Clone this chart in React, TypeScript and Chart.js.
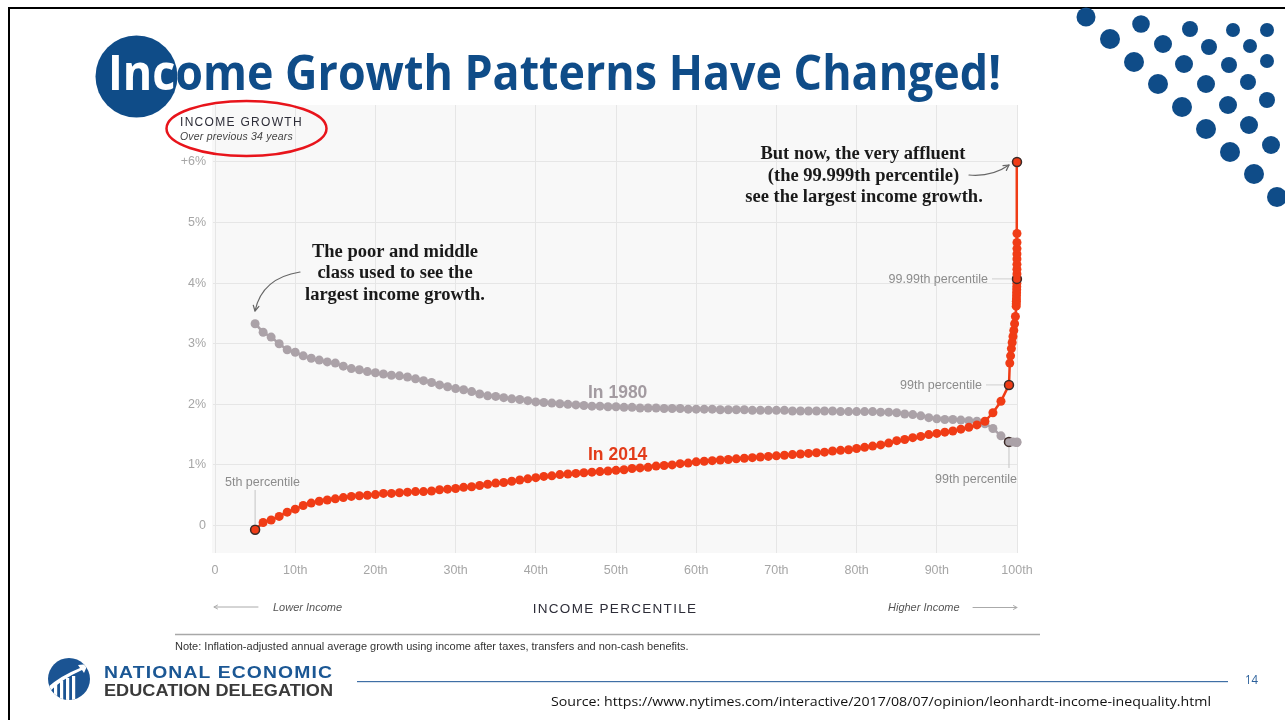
import React, { useEffect, useLayoutEffect, useRef } from 'react';
import { Chart, registerables } from 'chart.js';

Chart.register(...registerables);

// ---------------- data ----------------
const percentiles = [
  5, 6, 7, 8, 9, 10, 11, 12, 13, 14,
  15, 16, 17, 18, 19, 20, 21, 22, 23, 24,
  25, 26, 27, 28, 29, 30, 31, 32, 33, 34,
  35, 36, 37, 38, 39, 40, 41, 42, 43, 44,
  45, 46, 47, 48, 49, 50, 51, 52, 53, 54,
  55, 56, 57, 58, 59, 60, 61, 62, 63, 64,
  65, 66, 67, 68, 69, 70, 71, 72, 73, 74,
  75, 76, 77, 78, 79, 80, 81, 82, 83, 84,
  85, 86, 87, 88, 89, 90, 91, 92, 93, 94,
  95, 96, 97, 98, 99,
];

const growth1980 = [
  3.33, 3.19, 3.11, 3.0, 2.9, 2.86, 2.8, 2.76, 2.73, 2.7,
  2.68, 2.63, 2.59, 2.57, 2.54, 2.52, 2.5, 2.48, 2.47, 2.45,
  2.42, 2.39, 2.36, 2.32, 2.29, 2.26, 2.24, 2.21, 2.17, 2.14,
  2.13, 2.11, 2.09, 2.08, 2.06, 2.04, 2.03, 2.02, 2.01, 2.0,
  1.99, 1.98, 1.97, 1.97, 1.96, 1.96, 1.95, 1.95, 1.94, 1.94,
  1.94, 1.93, 1.93, 1.93, 1.92, 1.92, 1.92, 1.92, 1.91, 1.91,
  1.91, 1.91, 1.9, 1.9, 1.9, 1.9, 1.9, 1.89, 1.89, 1.89,
  1.89, 1.89, 1.89, 1.88, 1.88, 1.88, 1.88, 1.88, 1.87, 1.87,
  1.86, 1.84, 1.83, 1.81, 1.78, 1.76, 1.75, 1.75, 1.74, 1.73,
  1.72, 1.68, 1.6, 1.48, 1.38,
];

const growth2014 = [
  -0.07, 0.05, 0.09, 0.15, 0.22, 0.27, 0.33, 0.37, 0.4, 0.42,
  0.44, 0.46, 0.48, 0.49, 0.5, 0.51, 0.53, 0.53, 0.54, 0.55,
  0.56, 0.56, 0.57, 0.59, 0.6, 0.61, 0.63, 0.64, 0.66, 0.68,
  0.7, 0.71, 0.73, 0.75, 0.77, 0.79, 0.81, 0.82, 0.84, 0.85,
  0.86, 0.87, 0.88, 0.89, 0.9, 0.91, 0.92, 0.94, 0.95, 0.96,
  0.98, 0.99, 1.0, 1.02, 1.03, 1.05, 1.06, 1.07, 1.08, 1.09,
  1.1, 1.11, 1.12, 1.13, 1.14, 1.15, 1.16, 1.17, 1.18, 1.19,
  1.2, 1.21, 1.23, 1.24, 1.25, 1.27, 1.29, 1.31, 1.33, 1.36,
  1.4, 1.42, 1.45, 1.47, 1.5, 1.52, 1.54, 1.56, 1.59, 1.62,
  1.66, 1.72, 1.86, 2.05, 2.32,
];

const topPercentiles2014 = [
  99.1, 99.2, 99.3, 99.4, 99.5, 99.6, 99.7, 99.8, 99.9,
  99.91, 99.92, 99.93, 99.94, 99.95, 99.96, 99.97, 99.98, 99.99,
  99.991, 99.992, 99.993, 99.994, 99.995, 99.996, 99.997, 99.998, 99.999,
];
const topGrowth2014 = [
  2.68, 2.8, 2.92, 3.02, 3.12, 3.22, 3.33, 3.45, 3.62,
  3.66, 3.7, 3.74, 3.79, 3.84, 3.89, 3.94, 4.0, 4.07,
  4.15, 4.23, 4.31, 4.4, 4.48, 4.57, 4.67, 4.82, 6.0,
];

const topPercentiles1980 = [99.5, 99.9, 99.99, 99.999];
const topGrowth1980 = [1.38, 1.37, 1.37, 1.38];

const highlighted2014 = [5, 99, 99.99, 99.999];
const highlighted1980 = [99];

const xTickLabels = ['0', '10th', '20th', '30th', '40th', '50th', '60th', '70th', '80th', '90th', '100th'];
const yTickLabels = ['0', '1%', '2%', '3%', '4%', '5%', '+6%'];

// ---------------- styles ----------------
const RED = '#f03c16';
const GRAY = '#aba2a8';
const HILITE = '#3b2a27';
const BLUE = '#0f4c88';
const LABEL_FONT = '12.5px "Liberation Sans", Arial, sans-serif';
const LABEL_COLOR = '#8c8c8c';
const SERIF = 'bold 18.5px "Liberation Serif", "Times New Roman", serif';

const DECOR_DOTS: [number, number, number][] = [
  [1086, 17, 9.5], [1141, 24, 8.8], [1190, 29, 8], [1233, 30, 7], [1267, 30, 7],
  [1110, 39, 10], [1163, 44, 9], [1209, 47, 8], [1250, 46, 7],
  [1134, 62, 10], [1184, 64, 9], [1229, 65, 8], [1267, 61, 7],
  [1158, 84, 10], [1206, 84, 9], [1248, 82, 8],
  [1182, 107, 10], [1228, 105, 9], [1267, 100, 8],
  [1206, 129, 10], [1249, 125, 9],
  [1230, 152, 10], [1271, 145, 9],
  [1254, 174, 10],
  [1277, 197, 10],
];

function drawText(
  ctx: CanvasRenderingContext2D, s: string, x: number, y: number, font: string, color: string,
  align: CanvasTextAlign = 'left', spacing = 0, maxW?: number,
) {
  ctx.save();
  ctx.font = font;
  ctx.fillStyle = color;
  ctx.textAlign = align;
  ctx.textBaseline = 'alphabetic';
  (ctx as any).letterSpacing = spacing + 'px';
  if (maxW) ctx.fillText(s, x, y, maxW);
  else ctx.fillText(s, x, y);
  ctx.restore();
}

function drawLine(ctx: CanvasRenderingContext2D, x1: number, y1: number, x2: number, y2: number, color: string, w = 1) {
  ctx.save();
  ctx.strokeStyle = color;
  ctx.lineWidth = w;
  ctx.beginPath();
  ctx.moveTo(x1, y1);
  ctx.lineTo(x2, y2);
  ctx.stroke();
  ctx.restore();
}

function drawArrow(
  ctx: CanvasRenderingContext2D, sx: number, sy: number, cx: number, cy: number, ex: number, ey: number,
  color: string, width: number, head: number,
) {
  ctx.save();
  ctx.strokeStyle = color;
  ctx.lineWidth = width;
  ctx.lineCap = 'round';
  ctx.lineJoin = 'round';
  ctx.beginPath();
  ctx.moveTo(sx, sy);
  ctx.quadraticCurveTo(cx, cy, ex, ey);
  ctx.stroke();
  const ang = Math.atan2(ey - cy, ex - cx);
  ctx.beginPath();
  ctx.moveTo(ex - head * Math.cos(ang - 0.5), ey - head * Math.sin(ang - 0.5));
  ctx.lineTo(ex, ey);
  ctx.lineTo(ex - head * Math.cos(ang + 0.5), ey - head * Math.sin(ang + 0.5));
  ctx.stroke();
  ctx.restore();
}

const annotatePlugin = {
  id: 'annotate',
  beforeDraw(chart: any) {
    const { ctx, chartArea: a } = chart;
    ctx.save();
    ctx.fillStyle = '#f8f8f8';
    ctx.fillRect(a.left - 1, a.top, a.right - a.left + 1, a.bottom - a.top);
    ctx.restore();
  },
  afterDraw(chart: any) {
    const ctx: CanvasRenderingContext2D = chart.ctx;
    const xs = chart.scales.x;
    const ys = chart.scales.y;
    const px = (v: number) => xs.getPixelForValue(v);
    const py = (v: number) => ys.getPixelForValue(v);

    // header of the graphic
    drawText(ctx, 'INCOME GROWTH', 180, 126, '12px "Liberation Sans", Arial, sans-serif', '#2d2d38', 'left', 1.3);
    drawText(ctx, 'Over previous 34 years', 180, 139.5, 'italic 10.5px "Liberation Sans", Arial, sans-serif', '#444', 'left', 0.2);
    ctx.save();
    ctx.strokeStyle = '#e8141b';
    ctx.lineWidth = 2.5;
    ctx.beginPath();
    ctx.ellipse(246.5, 128.5, 80, 27.5, 0, 0, Math.PI * 2);
    ctx.stroke();
    ctx.restore();

    // series labels
    drawText(ctx, 'In 1980', 588, 397.5, 'bold 17.5px "Liberation Sans", Arial, sans-serif', '#a39ba1');
    drawText(ctx, 'In 2014', 588, 459.5, 'bold 17.5px "Liberation Sans", Arial, sans-serif', '#e33c1a');

    // callouts
    const i5 = percentiles.indexOf(5);
    const i99 = percentiles.indexOf(99);
    const i9999 = topPercentiles2014.indexOf(99.99);
    const x5 = px(5), y5 = py(growth2014[i5]);
    drawLine(ctx, x5, 490, x5, y5 - 5, '#c4c4c4', 1);
    drawText(ctx, '5th percentile', 225, 486, LABEL_FONT, LABEL_COLOR);

    const x99 = px(99);
    const yr99 = py(growth2014[i99]);
    drawLine(ctx, 986, yr99, x99 - 5, yr99, '#cfcfcf', 1);
    drawText(ctx, '99th percentile', 982, yr99 + 4.5, LABEL_FONT, LABEL_COLOR, 'right');

    const x9999 = px(99.99), y9999 = py(topGrowth2014[i9999]);
    drawLine(ctx, 992, y9999, x9999 - 5, y9999, '#cfcfcf', 1);
    drawText(ctx, '99.99th percentile', 988, y9999 + 4.5, LABEL_FONT, LABEL_COLOR, 'right');

    const yg99 = py(growth1980[i99]);
    drawLine(ctx, x99, yg99 + 5, x99, 468, '#c4c4c4', 1);
    drawText(ctx, '99th percentile', 1017, 482.5, LABEL_FONT, LABEL_COLOR, 'right');

    // big serif annotations
    drawText(ctx, 'The poor and middle', 395, 257, SERIF, '#1a1a1a', 'center', 0, 168);
    drawText(ctx, 'class used to see the', 395, 278, SERIF, '#1a1a1a', 'center', 0, 161);
    drawText(ctx, 'largest income growth.', 395, 299.5, SERIF, '#1a1a1a', 'center', 0, 185);
    drawArrow(ctx, 300, 272, 262, 278, 255, 311, '#666', 1.2, 6);

    drawText(ctx, 'But now, the very affluent', 863, 158.5, SERIF, '#1a1a1a', 'center', 0, 212);
    drawText(ctx, '(the 99.999th percentile)', 863.5, 180.5, SERIF, '#1a1a1a', 'center', 0, 199);
    drawText(ctx, 'see the largest income growth.', 864, 202, SERIF, '#1a1a1a', 'center', 0, 248);
    drawArrow(ctx, 969, 175, 992, 177, 1009, 165, '#666', 1.2, 6);

    // axis footer
    drawArrow(ctx, 258, 607, 236, 607, 214, 607, '#aaa', 1, 4);
    drawText(ctx, 'Lower Income', 273, 610.5, 'italic 11px "Liberation Sans", Arial, sans-serif', '#555');
    drawText(ctx, 'INCOME PERCENTILE', 615, 613, '13.5px "Liberation Sans", Arial, sans-serif', '#2d2d38', 'center', 1.3);
    drawText(ctx, 'Higher Income', 888, 610.5, 'italic 11px "Liberation Sans", Arial, sans-serif', '#555');
    drawArrow(ctx, 973, 607.5, 995, 607.5, 1017, 607.5, '#aaa', 1, 4);

    drawLine(ctx, 175, 634.5, 1040, 634.5, '#a8a8a8', 1.3);
    drawText(
      ctx,
      'Note: Inflation-adjusted annual average growth using income after taxes, transfers and non-cash benefits.',
      175, 650, '11px "Liberation Sans", Arial, sans-serif', '#333', 'left', 0, 533,
    );
  },
};

function IncomeChart() {
  const ref = useRef<HTMLCanvasElement>(null);
  useEffect(() => {
    const canvas = ref.current;
    if (!canvas) return;
    const x2014 = [...percentiles, ...topPercentiles2014];
    const v2014 = [...growth2014, ...topGrowth2014];
    const x1980 = [...percentiles, ...topPercentiles1980];
    const v1980 = [...growth1980, ...topGrowth1980];
    const pts2014 = x2014.map((p, i) => ({ x: p, y: v2014[i] }));
    const pts1980 = x1980.map((p, i) => ({ x: p, y: v1980[i] }));

    const isHl = (list: number[]) => (c: any) => list.includes(c.raw?.x);

    const chart = new Chart(canvas, {
      type: 'line',
      data: {
        datasets: [
          {
            label: 'In 2014',
            data: pts2014,
            borderColor: RED,
            backgroundColor: RED,
            borderWidth: 2.5,
            tension: 0,
            pointRadius: 4.5,
            pointBackgroundColor: RED,
            pointBorderColor: (c: any) => (isHl(highlighted2014)(c) ? HILITE : RED),
            pointBorderWidth: (c: any) => (isHl(highlighted2014)(c) ? 1.5 : 0),
            clip: false,
          } as any,
          {
            label: 'In 1980',
            data: pts1980,
            borderColor: GRAY,
            backgroundColor: GRAY,
            borderWidth: 2.5,
            tension: 0,
            pointRadius: 4.5,
            pointBackgroundColor: GRAY,
            pointBorderColor: (c: any) => (isHl(highlighted1980)(c) ? HILITE : GRAY),
            pointBorderWidth: (c: any) => (isHl(highlighted1980)(c) ? 1.5 : 0),
            clip: false,
          } as any,
        ],
      },
      options: {
        responsive: false,
        animation: false,
        devicePixelRatio: 1,
        layout: { padding: { top: 105, right: 268, left: 0, bottom: 0 } },
        plugins: {
          legend: { display: false },
          tooltip: { enabled: false },
          title: { display: false },
        },
        scales: {
          x: {
            type: 'linear',
            min: -0.25,
            max: 100,
            afterFit: (s: any) => { s.height = 167; },
            border: { display: false },
            grid: { color: '#e6e6e6', drawTicks: false, lineWidth: 1 },
            ticks: {
              stepSize: 10,
              includeBounds: false,
              autoSkip: false,
              maxRotation: 0,
              padding: 10,
              color: '#a6a6a6',
              font: { family: '"Liberation Sans", Arial, sans-serif', size: 12.5 },
              callback: (v: any) => xTickLabels[Math.round(Number(v) / 10)] ?? '',
            },
          },
          y: {
            type: 'linear',
            min: -0.454,
            max: 6.94,
            afterFit: (s: any) => { s.width = 213; },
            border: { display: false },
            grid: { color: '#e6e6e6', drawTicks: false, lineWidth: 1 },
            ticks: {
              stepSize: 1,
              includeBounds: false,
              padding: 7,
              color: '#a6a6a6',
              font: { family: '"Liberation Sans", Arial, sans-serif', size: 12.5 },
              callback: (v: any) => yTickLabels[Math.round(Number(v))] ?? '',
            },
          },
        },
      } as any,
      plugins: [annotatePlugin as any],
    });
    return () => chart.destroy();
  }, []);
  return (
    <canvas
      ref={ref}
      width={1285}
      height={720}
      style={{ position: 'absolute', left: 0, top: 0, width: 1285, height: 720 }}
    />
  );
}

function FitText(props: { text: string; left: number; top: number; width: number; style: React.CSSProperties }) {
  const ref = useRef<HTMLSpanElement>(null);
  useLayoutEffect(() => {
    const fit = () => {
      const el = ref.current;
      if (!el) return;
      el.style.transform = 'none';
      const w = el.getBoundingClientRect().width;
      if (w > 0) el.style.transform = `scaleX(${props.width / w})`;
    };
    fit();
    const fonts = (document as any).fonts;
    if (fonts && fonts.ready) fonts.ready.then(fit);
  }, [props.text, props.width]);
  return (
    <span
      ref={ref}
      style={{
        position: 'absolute',
        left: props.left,
        top: props.top,
        whiteSpace: 'nowrap',
        lineHeight: 1,
        display: 'inline-block',
        transformOrigin: '0 0',
        ...props.style,
      }}
    >
      {props.text}
    </span>
  );
}

const TITLE = 'Income Growth Patterns Have Changed!';
const titleStyle: React.CSSProperties = {
  fontFamily: '"Open Sans", sans-serif',
  fontWeight: 700,
  fontSize: 49,
};

export default function App() {
  return (
    <div
      style={{
        position: 'fixed',
        left: 0,
        top: 0,
        width: 1285,
        height: 720,
        overflow: 'hidden',
        background: '#fff',
      }}
    >
      <div
        style={{
          position: 'absolute',
          left: 8,
          top: 7,
          width: 1400,
          height: 800,
          borderTop: '2.5px solid #000',
          borderLeft: '2.5px solid #000',
          boxSizing: 'border-box',
        }}
      />
      <svg
        width={1285}
        height={720}
        style={{ position: 'absolute', left: 0, top: 0 }}
      >
        {DECOR_DOTS.map(([cx, cy, r], i) => (
          <circle key={i} cx={cx} cy={cy} r={r} fill={BLUE} />
        ))}
        <circle cx={136.5} cy={76.5} r={41} fill={BLUE} />
        {/* logo */}
        <defs>
          <clipPath id="logoClip">
            <circle cx={69} cy={679} r={21} />
          </clipPath>
        </defs>
        <circle cx={69} cy={679} r={21} fill="#1b5493" />
        <g clipPath="url(#logoClip)" fill="#fff">
          <rect x={54} y={684} width={3.2} height={20} />
          <rect x={60} y={681} width={3.2} height={22} />
          <rect x={66} y={678} width={3.2} height={24} />
          <rect x={72} y={676} width={3.2} height={26} />
          <path d="M47 688 Q60 676 80 668 L78 665 L88 664 L84 673 L82 670 Q62 679 49 692 Z" />
        </g>
        <rect x={357} y={681} width={871} height={1.2} fill="#3f6fa5" />
      </svg>

      <IncomeChart />

      <FitText text={TITLE} left={108} top={47} width={893} style={{ ...titleStyle, color: BLUE }} />
      <div
        style={{
          position: 'absolute',
          left: 0,
          top: 0,
          width: 1285,
          height: 720,
          clipPath: 'circle(41px at 136.5px 76.5px)',
        }}
      >
        <FitText text={TITLE} left={108} top={47} width={893} style={{ ...titleStyle, color: '#fff' }} />
      </div>

      <FitText
        text="NATIONAL ECONOMIC"
        left={104}
        top={663.5}
        width={229}
        style={{ fontFamily: '"Liberation Sans", Arial, sans-serif', fontWeight: 700, fontSize: 17, color: '#1b5794', letterSpacing: 1 }}
      />
      <FitText
        text="EDUCATION DELEGATION"
        left={104}
        top={681.5}
        width={229}
        style={{ fontFamily: '"Liberation Sans", Arial, sans-serif', fontWeight: 700, fontSize: 17, color: '#3a3a3a' }}
      />
      <FitText
        text="14"
        left={1245}
        top={674}
        width={13}
        style={{ fontFamily: '"Open Sans", sans-serif', fontSize: 12.5, color: '#2a5f9a' }}
      />
      <FitText
        text="Source: https://www.nytimes.com/interactive/2017/08/07/opinion/leonhardt-income-inequality.html"
        left={551}
        top={694.5}
        width={660}
        style={{ fontFamily: '"Open Sans", sans-serif', fontSize: 13, color: '#111' }}
      />
    </div>
  );
}
